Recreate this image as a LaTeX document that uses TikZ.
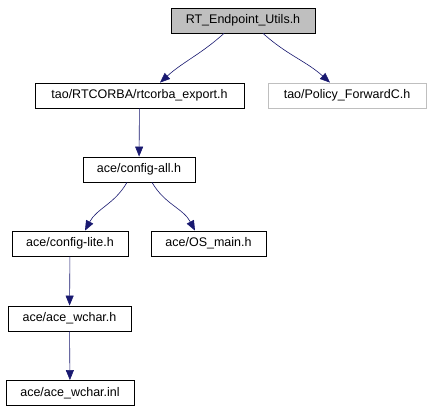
\documentclass[tikz,border=0pt]{standalone}
\usepackage{fontspec}
\setmainfont{Liberation Sans}
\usepackage{xcolor}
\usetikzlibrary{arrows.meta}

\definecolor{edgeblue}{HTML}{191970}
\definecolor{boxgray}{HTML}{BFBFBF}

\begin{document}
\begin{tikzpicture}[
    x=1pt, y=-1pt,
    box/.style={rectangle, draw, line width=0.8pt, minimum height=25pt, inner sep=0pt, align=center, font=\fontsize{12.5}{14}\selectfont},
    edge/.style={-{Triangle[length=10pt,width=8pt]}, draw=edgeblue, line width=0.6pt}
]
\useasboundingbox (0,0) rectangle (431,411);

\node[box, fill=boxgray, minimum width=144pt] (rt) at (243,20.5) {RT\_Endpoint\_Utils.h};
\node[box, minimum width=209pt] (rtcorba) at (139.5,95.5) {tao/RTCORBA/rtcorba\_export.h};
\node[box, draw=boxgray, minimum width=158pt] (policy) at (347,95.5) {tao/Policy\_ForwardC.h};
\node[box, minimum width=112pt] (configall) at (139,169.5) {ace/config-all.h};
\node[box, minimum width=116pt] (configlite) at (70,243.5) {ace/config-lite.h};
\node[box, minimum width=115pt] (osmain) at (208.5,243.5) {ace/OS\_main.h};
\node[box, minimum width=123pt] (wchar) at (69.5,318.5) {ace/ace\_wchar.h};
\node[box, minimum width=128pt] (wcharinl) at (70,393) {ace/ace\_wchar.inl};

\draw[edge] ([xshift=-19pt]rt.south) to[out=-138,in=42] ([xshift=20.5pt]rtcorba.north);
\draw[edge] ([xshift=20pt]rt.south) to[out=-42,in=138] ([xshift=-17pt]policy.north);
\draw[edge] (rtcorba) -- (configall);
\draw[edge] ([xshift=-12pt]configall.south) to[out=-120,in=62] ([xshift=15pt]configlite.north);
\draw[edge] ([xshift=13pt]configall.south) to[out=-60,in=118] ([xshift=-13.5pt]osmain.north);
\draw[edge] (configlite) -- (wchar);
\draw[edge] (wchar) -- (wcharinl);
\end{tikzpicture}
\end{document}
